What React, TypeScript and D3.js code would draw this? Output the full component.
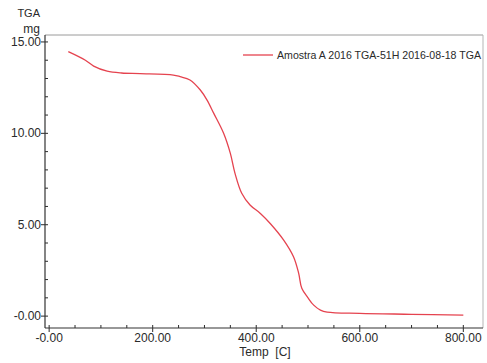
import { useEffect, useRef } from 'react';
import * as d3 from 'd3';

// readings: temperature [C] and mass [mg]
const temps = [37, 70, 86, 112, 140, 176, 240, 253, 272, 292, 305, 318, 337, 350, 359, 372, 388, 408, 427, 453, 472, 482, 488, 500, 511, 524, 537, 600, 700, 800];
const masses = [14.47, 14.0, 13.68, 13.4, 13.3, 13.27, 13.19, 13.1, 12.92, 12.37, 11.82, 11.09, 10.0, 8.9, 7.81, 6.72, 6.08, 5.62, 5.07, 4.16, 3.25, 2.34, 1.52, 1.0, 0.6, 0.33, 0.22, 0.15, 0.1, 0.05];

const xTicks = [0, 200, 400, 600, 800];
const xTickLabels = ['-0.00', '200.00', '400.00', '600.00', '800.00'];
const yTicks = [0, 5, 10, 15];
const yTickLabels = ['-0.00', '5.00', '10.00', '15.00'];
const legendLabel = 'Amostra A 2016 TGA-51H 2016-08-18 TGA';

const App = () => {
    const svgRef = useRef<SVGSVGElement>(null);

    useEffect(() => {
        const w = 487;
        const h = 363;
        const left = 45, right = 483, top = 35, bottom = 328;
        const font = 'Liberation Sans, Arial, sans-serif';
        const ink = '#2a2a2a';

        const svg = d3.select(svgRef.current);
        svg.selectAll('*').remove();
        svg.attr('width', w).attr('height', h);

        const x = d3.scaleLinear().domain([-8, 838]).range([left, right]);
        const y = d3.scaleLinear().domain([-0.65, 15.38]).range([bottom, top]);

        svg.append('rect').attr('width', w).attr('height', h).attr('fill', '#fff');

        // frame
        svg.append('line').attr('x1', left).attr('x2', right).attr('y1', top).attr('y2', top)
            .attr('stroke', '#9a9a9a').attr('stroke-width', 1);
        svg.append('line').attr('x1', right).attr('x2', right).attr('y1', top).attr('y2', bottom)
            .attr('stroke', '#b5b5b5').attr('stroke-width', 1);

        // minor ticks
        const g = svg.append('g');
        g.selectAll('.mx').data(d3.range(0, 801, 50)).enter().append('line')
            .attr('x1', d => x(d)).attr('x2', d => x(d))
            .attr('y1', bottom).attr('y2', bottom - 3)
            .attr('stroke', ink).attr('stroke-width', 1);
        g.selectAll('.my').data(d3.range(0, 16, 1)).enter().append('line')
            .attr('x1', left).attr('x2', left + 3)
            .attr('y1', d => y(d)).attr('y2', d => y(d))
            .attr('stroke', ink).attr('stroke-width', 1);

        // major ticks + labels
        xTicks.forEach((t, i) => {
            g.append('line').attr('x1', x(t)).attr('x2', x(t)).attr('y1', bottom).attr('y2', bottom + 4)
                .attr('stroke', ink);
            g.append('text').attr('x', x(t)).attr('y', bottom + 14)
                .attr('text-anchor', 'middle').style('font-family', font).style('font-size', '12px')
                .attr('fill', ink).text(xTickLabels[i]);
        });
        yTicks.forEach((t, i) => {
            g.append('line').attr('x1', left - 4).attr('x2', left).attr('y1', y(t)).attr('y2', y(t))
                .attr('stroke', ink);
            g.append('text').attr('x', left - 4).attr('y', y(t) + 4)
                .attr('text-anchor', 'end').style('font-family', font).style('font-size', '12px')
                .attr('fill', ink).text(yTickLabels[i]);
        });

        // axes lines
        svg.append('line').attr('x1', left).attr('x2', left).attr('y1', top).attr('y2', bottom)
            .attr('stroke', '#333').attr('stroke-width', 1.2);
        svg.append('line').attr('x1', left).attr('x2', right).attr('y1', bottom).attr('y2', bottom)
            .attr('stroke', '#333').attr('stroke-width', 1.2);

        // axis titles
        svg.append('text').attr('x', 40).attr('y', 17).attr('text-anchor', 'end')
            .style('font-family', font).style('font-size', '11px').attr('fill', ink).text('TGA');
        svg.append('text').attr('x', 40).attr('y', 33).attr('text-anchor', 'end')
            .style('font-family', font).style('font-size', '12px').attr('fill', ink).text('mg');
        svg.append('text').attr('x', 265).attr('y', 356).attr('text-anchor', 'middle')
            .style('font-family', font).style('font-size', '12px').style('white-space', 'pre')
            .attr('fill', ink).text('Temp  [C]');

        // curve
        const pts = temps.map((t, i) => [t, masses[i]] as [number, number]);
        const line = d3.line<[number, number]>()
            .x(d => x(d[0])).y(d => y(d[1]))
            .curve(d3.curveCatmullRom.alpha(0.5));
        svg.append('path').datum(pts).attr('d', line)
            .attr('fill', 'none').attr('stroke', '#e5434f').attr('stroke-width', 1.3);

        // legend
        svg.append('line').attr('x1', 243).attr('x2', 273).attr('y1', 55).attr('y2', 55)
            .attr('stroke', '#e5434f').attr('stroke-width', 1.3);
        svg.append('text').attr('x', 277).attr('y', 58.5)
            .style('font-family', font).style('font-size', '10.5px').attr('fill', ink)
            .attr('textLength', 204).attr('lengthAdjust', 'spacingAndGlyphs').text(legendLabel);
    }, []);

    return <svg ref={svgRef} style={{ display: 'block', position: 'absolute', left: 0, top: 0 }}></svg>;
};

export default App;
